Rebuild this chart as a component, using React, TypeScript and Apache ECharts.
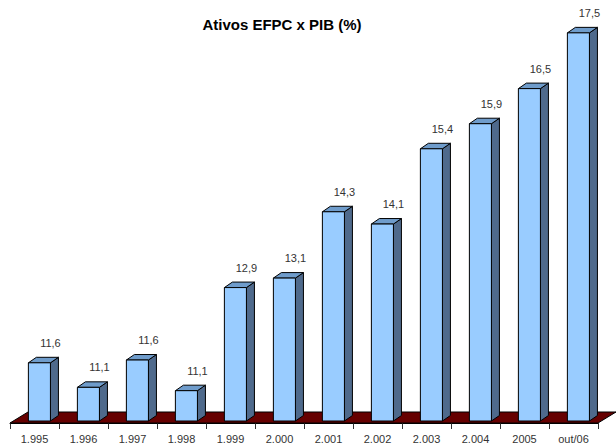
import React, { useEffect, useRef } from "react";
import * as echarts from "echarts";

const categories = ["1.995", "1.996", "1.997", "1.998", "1.999", "2.000", "2.001", "2.002", "2.003", "2.004", "2005", "out/06"];
const values = [11.58, 11.14, 11.63, 11.08, 12.93, 13.1, 14.29, 14.07, 15.42, 15.87, 16.5, 17.5];

const fmt = (v: number) => v.toFixed(1).replace(".", ",");

export default function App() {
  const ref = useRef<HTMLDivElement>(null);
  useEffect(() => {
    const chart = echarts.init(ref.current!, undefined, { renderer: "svg" });
    chart.setOption({
      animation: false,
      backgroundColor: "#ffffff",
      title: {
        text: "Ativos EFPC x PIB (%)",
        left: 277,
        top: 12,
        textAlign: "center",
        textStyle: { fontFamily: "Liberation Sans", fontSize: 15, fontWeight: "bold", color: "#000000" },
      },
      grid: { left: 10, right: 18, top: 5, bottom: 22 },
      xAxis: {
        type: "category",
        data: categories,
        axisLine: { lineStyle: { color: "#000000", width: 1 } },
        axisTick: { show: true, length: 6, lineStyle: { color: "#333333" } },
        axisLabel: { fontFamily: "Liberation Sans", fontSize: 11, color: "#333333", margin: 10, interval: 0 },
      },
      yAxis: { type: "value", min: 10.5, max: 18, show: false, splitLine: { show: false } },
      series: [
        {
          type: "custom",
          silent: true,
          z: 1,
          clip: false,
          data: [[categories[0], values[0]]],
          renderItem: (params: any) => {
            const c = params.coordSys;
            const b = c.y + c.height;
            return {
              type: "polygon",
              shape: {
                points: [
                  [c.x, b],
                  [c.x + c.width, b],
                  [c.x + c.width + 18, b - 11],
                  [c.x + 18, b - 11],
                ],
              },
              style: { fill: "#660000", stroke: "#000000", lineWidth: 1 },
            };
          },
        },
        {
          type: "custom",
          silent: true,
          z: 2,
          clip: false,
          encode: { x: 0, y: 1 },
          data: categories.map((c, i) => [c, values[i]]),
          renderItem: (_params: any, api: any) => {
            const idx = api.value(0);
            const v = api.value(1);
            const top = api.coord([idx, v]);
            const band = api.size([1, 0])[0];
            const w = band * 0.45;
            const cx = top[0] + band * 0.1;
            const l = cx - w / 2;
            const r = cx + w / 2;
            const t = top[1];
            const bot = api.coord([idx, 10.5])[1] - 2;
            const dx = 8;
            const dy = 5.5;
            const edge = { stroke: "#000000", lineWidth: 1 };
            return {
              type: "group",
              children: [
                {
                  type: "polygon",
                  shape: { points: [[r, t], [r + dx, t - dy], [r + dx, bot - dy], [r, bot]] },
                  style: { fill: "#4F6A8C", ...edge },
                },
                {
                  type: "polygon",
                  shape: { points: [[l, t], [l + dx, t - dy], [r + dx, t - dy], [r, t]] },
                  style: { fill: "#6F9CCB", ...edge },
                },
                {
                  type: "rect",
                  shape: { x: l, y: t, width: w, height: bot - t },
                  style: { fill: "#99CCFF", ...edge },
                },
                {
                  type: "text",
                  style: {
                    x: r,
                    y: t - 20,
                    text: fmt(v),
                    fill: "#333333",
                    fontFamily: "Liberation Sans",
                    fontSize: 11,
                    textAlign: "center",
                    textVerticalAlign: "middle",
                  },
                },
              ],
            };
          },
        },
      ],
    });
    return () => chart.dispose();
  }, []);
  return <div ref={ref} style={{ position: "fixed", left: 0, top: 0, width: 616, height: 445 }} />;
}
